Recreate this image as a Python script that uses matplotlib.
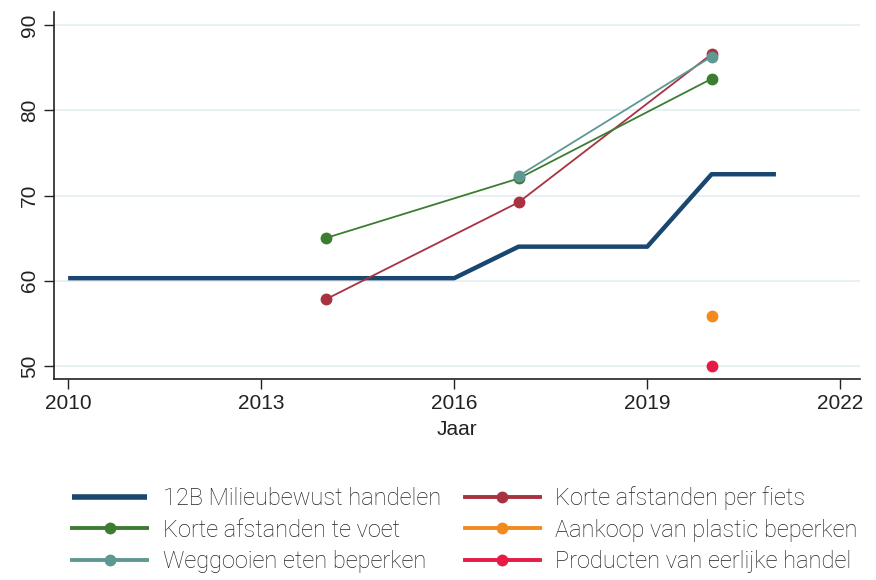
import matplotlib
matplotlib.use("Agg")
import matplotlib.pyplot as plt

# Gegevens
jaren_totaal = [2010, 2016, 2017, 2019, 2020, 2021]
milieubewust = [60.3, 60.3, 64.0, 64.0, 72.5, 72.5]

jaren_voet = [2014, 2017, 2020]
voet = [65.0, 72.0, 83.7]

jaren_fiets = [2014, 2017, 2020]
fiets = [57.8, 69.2, 86.6]

jaren_eten = [2017, 2020]
eten = [72.3, 86.3]

jaren_plastic = [2020]
plastic = [55.9]

jaren_eerlijk = [2020]
eerlijk = [50.0]

labels = ["12B Milieubewust handelen", "Korte afstanden te voet",
          "Weggooien eten beperken", "Korte afstanden per fiets",
          "Aankoop van plastic beperken", "Producten van eerlijke handel"]

kleur_navy = "#1a476f"
kleur_groen = "#3c7d32"
kleur_teal = "#5d9893"
kleur_rood = "#a83240"
kleur_oranje = "#f28a1e"
kleur_karmijn = "#e51b45"

plt.rcParams['font.family'] = ['Liberation Sans', 'DejaVu Sans']

fig = plt.figure(figsize=(8.76, 5.8), dpi=100)
ax = fig.add_axes([0.0616, 0.3466, 0.9204, 0.6324])

ax.plot(jaren_totaal, milieubewust, color=kleur_navy, lw=3.2, solid_capstyle='butt',
        label=labels[0], zorder=3)
ax.plot(jaren_voet, voet, color=kleur_groen, lw=1.3, marker='o', ms=7.5,
        label=labels[1], zorder=4)
ax.plot(jaren_eten, eten, color=kleur_teal, lw=1.3, marker='o', ms=7.5,
        label=labels[2], zorder=4)
ax.plot(jaren_fiets, fiets, color=kleur_rood, lw=1.3, marker='o', ms=7.5,
        label=labels[3], zorder=3.5)
ax.plot(jaren_plastic, plastic, color=kleur_oranje, lw=1.3, marker='o', ms=7.5,
        label=labels[4], zorder=4)
ax.plot(jaren_eerlijk, eerlijk, color=kleur_karmijn, lw=1.3, marker='o', ms=7.5,
        label=labels[5], zorder=4)

ax.set_xlim(2009.78, 2022.31)
ax.set_ylim(48.47, 91.52)
ax.set_xticks([2010, 2013, 2016, 2019, 2022])
ax.set_yticks([50, 60, 70, 80, 90])
ax.grid(axis='y', color='#e3eef1', lw=1.2)
ax.set_axisbelow(True)
for s in ['top', 'right']:
    ax.spines[s].set_visible(False)
for s in ['left', 'bottom']:
    ax.spines[s].set_color('#222222')
    ax.spines[s].set_linewidth(1.2)
ax.tick_params(axis='both', length=7, width=1.0, color='#222222',
               labelsize=15, labelcolor='#222222', pad=4)
plt.setp(ax.get_yticklabels(), rotation=90, va='center')
ax.set_xlabel("Jaar", fontsize=15, color='#222222', labelpad=5)

handles, _ = ax.get_legend_handles_labels()
leg = fig.legend(handles, labels, ncol=2, loc='upper left',
                 bbox_to_anchor=(0.082, 0.162), frameon=False,
                 prop={'family': ['Roboto', 'DejaVu Sans'], 'weight': 'light', 'size': 17},
                 handlelength=3.2, handletextpad=0.65, columnspacing=1.0,
                 labelspacing=0.37, borderaxespad=0, borderpad=0)
for t in leg.get_texts():
    t.set_color('#222222')
for h in leg.legend_handles:
    if h.get_color() == kleur_navy:
        h.set_linewidth(4)
    else:
        h.set_linewidth(2.8)

fig.savefig("out.png", dpi=100)
